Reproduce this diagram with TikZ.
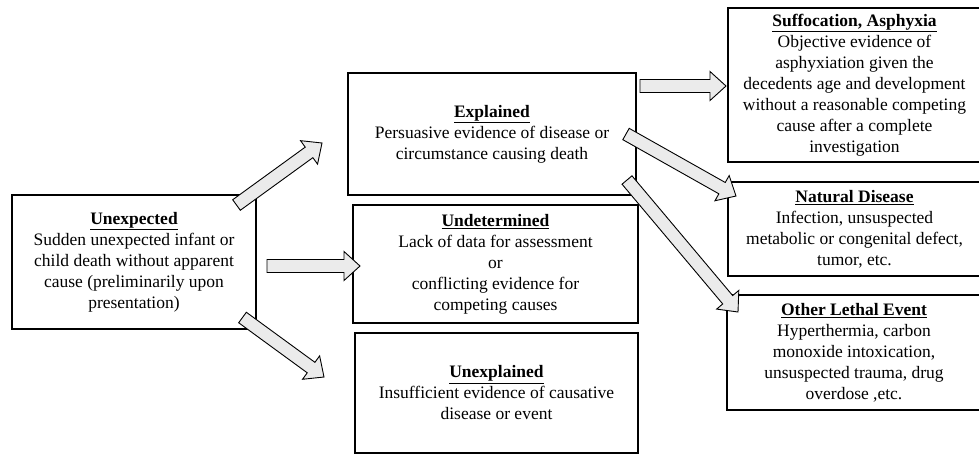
\documentclass[tikz,border=0pt]{standalone}
\usepackage{fontspec}
\setmainfont{Liberation Serif}
\usetikzlibrary{calc}
\definecolor{arrowgray}{HTML}{EBEBEB}
\tikzset{
  x=1pt, y=-1pt,
  txt/.style={font=\fontsize{17.5}{21}\selectfont, align=center, inner sep=0pt},
  boxthick/.style={draw, line width=2.8pt, txt},
  boxthin/.style={draw, line width=1.8pt, txt},
  barrow/.style={draw, line width=0.9pt, fill=arrowgray, line join=miter},
}
\newcommand{\hd}[1]{\underline{\textbf{#1}}}
% block arrow from tail coordinate #1 to tip coordinate #2
\newcommand{\blockarrow}[2]{%
  \coordinate (#1h) at ($(#2)!16pt!(#1)$);
  \draw[barrow] ($(#1)!6.5pt!90:(#2)$) -- ($(#1h)!6.5pt!90:(#2)$) -- ($(#1h)!14.5pt!90:(#2)$) -- (#2)
    -- ($(#1h)!14.5pt!-90:(#2)$) -- ($(#1h)!6.5pt!-90:(#2)$) -- ($(#1)!6.5pt!-90:(#2)$) -- cycle;}
\begin{document}
\begin{tikzpicture}
\useasboundingbox (0,0) rectangle (979,456);
\fill[white] (0,0) rectangle (979,456);

% left and middle boxes
\node[boxthick, minimum width=244, minimum height=134] (unexp) at (134,262)
  {\hd{Unexpected}\\Sudden unexpected infant or\\child death without apparent\\cause (preliminarily upon\\presentation)};
\node[boxthick, minimum width=288, minimum height=122] (expl) at (492,134)
  {\hd{Explained}\\Persuasive evidence of disease or\\circumstance causing death};
\node[boxthick, minimum width=285, minimum height=118] (undet) at (495.5,264)
  {\hd{Undetermined}\\Lack of data for assessment\\or\\conflicting evidence for\\competing causes};
\node[boxthick, minimum width=283, minimum height=120] (unexpl) at (496.5,393)
  {\hd{Unexplained}\\Insufficient evidence of causative\\disease or event};

% right boxes (right edge runs off the picture)
\node[boxthin, minimum width=253, minimum height=154] (suff) at (854.5,85)
  {\hd{Suffocation, Asphyxia}\\Objective evidence of\\asphyxiation given the\\decedents age and development\\without a reasonable competing\\cause after a complete\\investigation};
\node[boxthin, minimum width=253, minimum height=94] (nat) at (854.5,229)
  {\hd{Natural Disease}\\Infection, unsuspected\\metabolic or congenital defect,\\tumor, etc.};
\node[boxthin, minimum width=254, minimum height=115] (oth) at (854,352.5)
  {\hd{Other Lethal Event}\\Hyperthermia, carbon\\monoxide intoxication,\\unsuspected trauma, drug\\overdose ,etc.};

% arrow end points
\coordinate (t1) at (236.5,205);  \coordinate (p1) at (322,143);
\coordinate (t2) at (267,266);    \coordinate (p2) at (360,266);
\coordinate (t3) at (242.5,317.5);\coordinate (p3) at (324,377);
\coordinate (t4) at (640,86);     \coordinate (p4) at (726,86);
\coordinate (t5) at (626,134);    \coordinate (p5) at (736,196);
\coordinate (t6) at (627,180);    \coordinate (p6) at (738,312);

\blockarrow{t1}{p1}
\blockarrow{t2}{p2}
\blockarrow{t3}{p3}
\blockarrow{t4}{p4}
\blockarrow{t5}{p5}
\blockarrow{t6}{p6}
\end{tikzpicture}
\end{document}
